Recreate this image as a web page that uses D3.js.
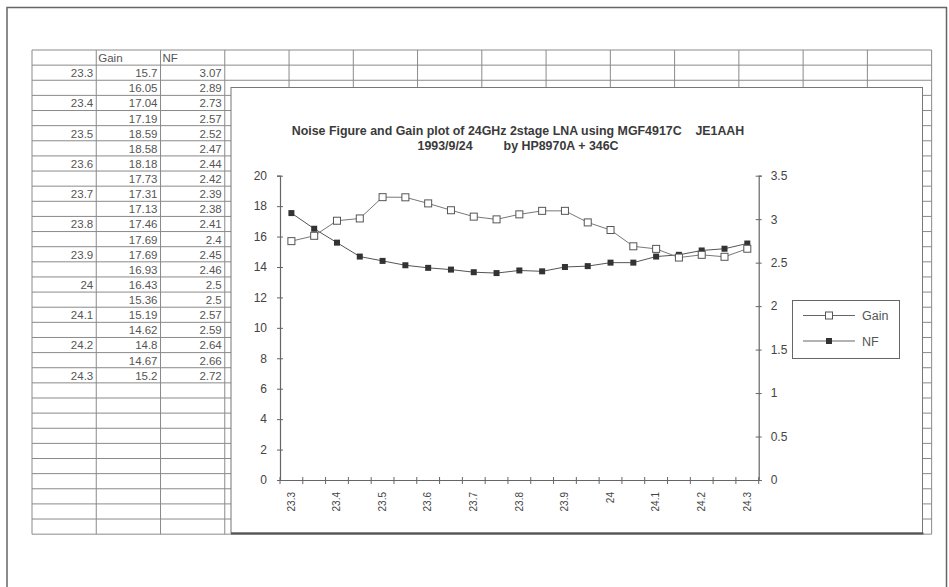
<!DOCTYPE html>
<html>
<head>
<meta charset="utf-8">
<script src="https://cdn.jsdelivr.net/npm/d3@7/dist/d3.min.js"></script>
<style>
  html, body { margin: 0; padding: 0; background: #fff; }
  svg { display: block; }
  text { font-family: "Liberation Sans", Arial, sans-serif; }
</style>
</head>
<body>
<svg id="chart" width="949" height="587"></svg>
<script>
// Frequency points (GHz), measured gain (dB) and noise figure (dB)
const freqs = ["23.3","23.35","23.4","23.45","23.5","23.55","23.6","23.65","23.7","23.75",
               "23.8","23.85","23.9","23.95","24","24.05","24.1","24.15","24.2","24.25","24.3"];
const freqLabels = ["23.3","","23.4","","23.5","","23.6","","23.7","","23.8","","23.9","",
                    "24","","24.1","","24.2","","24.3"];
const gain = [15.7,16.05,17.04,17.19,18.59,18.58,18.18,17.73,17.31,17.13,17.46,17.69,17.69,
              16.93,16.43,15.36,15.19,14.62,14.8,14.67,15.2];
const nf = [3.07,2.89,2.73,2.57,2.52,2.47,2.44,2.42,2.39,2.38,2.41,2.4,2.45,2.46,2.5,2.5,
            2.57,2.59,2.64,2.66,2.72];
const gainTicks = [0,2,4,6,8,10,12,14,16,18,20];
const nfTicks = [0,0.5,1,1.5,2,2.5,3,3.5];
const headers = ["", "Gain", "NF"];
const titleLines = ["Noise Figure and Gain plot of 24GHz 2stage LNA using MGF4917C \u00a0\u00a0\u00a0JE1AAH",
                    "1993/9/24 \u00a0\u00a0\u00a0\u00a0\u00a0\u00a0\u00a0\u00a0by HP8970A + 346C"];
const seriesNames = ["Gain", "NF"];

const svg = d3.select("#chart");
const gridInk = "#8a8a8a";

// ---- page frame ----
svg.append("path")
  .attr("d", "M7,587 V7.5 H946.5 V587")
  .attr("fill", "none").attr("stroke", "#666").attr("stroke-width", 1.5);

// ---- spreadsheet grid ----
const colX = d3.range(15).map(i => 32 + i * 64.26);
const rowY = d3.range(33).map(i => 50 + i * 15.13);
const sheet = svg.append("g");
sheet.selectAll("line.v").data(colX).join("line")
  .attr("x1", d => d).attr("x2", d => d)
  .attr("y1", rowY[0]).attr("y2", rowY[rowY.length - 1])
  .attr("stroke", gridInk).attr("stroke-width", 1);
sheet.selectAll("line.h").data(rowY).join("line")
  .attr("x1", colX[0]).attr("x2", colX[colX.length - 1])
  .attr("y1", d => d).attr("y2", d => d)
  .attr("stroke", gridInk).attr("stroke-width", 1);

// header row
sheet.selectAll("text.hdr").data(headers).join("text")
  .attr("x", (d, i) => colX[i] + 2).attr("y", rowY[0] + 12)
  .attr("font-size", 11.5).attr("fill", "#555").text(d => d);

// data rows
const rows = freqs.map((f, i) => [freqLabels[i], gain[i], nf[i]]);
rows.forEach((r, i) => {
  r.forEach((v, j) => {
    if (v === "") return;
    sheet.append("text")
      .attr("x", colX[j + 1] - 3).attr("y", rowY[i + 1] + 12)
      .attr("text-anchor", "end").attr("font-size", 11.5).attr("fill", "#555")
      .text(v);
  });
});

// ---- chart box ----
const box = {x: 231, y: 87.5, w: 691.5, h: 445.5};
svg.append("rect")
  .attr("x", box.x).attr("y", box.y).attr("width", box.w).attr("height", box.h)
  .attr("fill", "#fff").attr("stroke", "#777").attr("stroke-width", 1);
svg.append("line")
  .attr("x1", box.x).attr("x2", box.x + box.w + 1)
  .attr("y1", box.y + box.h + 0.5).attr("y2", box.y + box.h + 0.5)
  .attr("stroke", "#555").attr("stroke-width", 2);

// title
svg.selectAll("text.title").data(titleLines).join("text")
  .attr("x", 518).attr("y", (d, i) => 135 + i * 14.5)
  .attr("text-anchor", "middle").attr("font-size", 12.4).attr("font-weight", "bold")
  .attr("fill", "#3a3a3a").text(d => d);

// ---- scales ----
const plot = {left: 280, right: 758.7, top: 175.7, bottom: 480};
const x = d3.scaleBand().domain(freqs).range([plot.left, plot.right]).padding(0);
const yG = d3.scaleLinear().domain([0, 20]).range([plot.bottom, plot.top]);
const yN = d3.scaleLinear().domain([0, 3.5]).range([plot.bottom, plot.top]);
const cx = d => x(d) + x.bandwidth() / 2;

function styleAxis(g) {
  g.select(".domain").attr("stroke", "#666").attr("stroke-width", 1.2);
  g.selectAll(".tick line").attr("stroke", "#666");
  g.selectAll(".tick text").attr("fill", "#444").attr("font-family", "Liberation Sans, Arial, sans-serif");
}

// left axis (gain)
const gL = svg.append("g").attr("transform", `translate(${plot.left},0)`)
  .call(d3.axisLeft(yG).tickValues(gainTicks).tickFormat(d => String(d))
    .tickSizeOuter(0).tickSize(3).tickPadding(10));
gL.selectAll(".tick line").attr("x1", -3).attr("x2", 3);
styleAxis(gL);
gL.selectAll(".tick text").attr("font-size", 12);

// right axis (NF)
const gR = svg.append("g").attr("transform", `translate(${plot.right},0)`)
  .call(d3.axisRight(yN).tickValues(nfTicks).tickFormat(d => String(d))
    .tickSizeOuter(0).tickSize(3).tickPadding(9));
gR.selectAll(".tick line").attr("x1", -3).attr("x2", 3);
styleAxis(gR);
gR.selectAll(".tick text").attr("font-size", 12);

// bottom category axis: labels on every other category
const gB = svg.append("g").attr("transform", `translate(0,${plot.bottom})`)
  .call(d3.axisBottom(x).tickValues(freqs.filter((d, i) => freqLabels[i] !== ""))
    .tickFormat(d => freqLabels[freqs.indexOf(d)]).tickSize(0).tickSizeOuter(0));
styleAxis(gB);
gB.selectAll(".tick text")
  .attr("transform", "rotate(-90)").attr("text-anchor", "end")
  .attr("x", -12).attr("y", 0).attr("dy", "0.33em").attr("dx", 0)
  .attr("font-size", 10).attr("font-family", "Liberation Sans Narrow, Liberation Sans, sans-serif");
// tick marks between categories
gB.selectAll("line.cat").data(d3.range(freqs.length + 1)).join("line")
  .attr("x1", i => plot.left + i * x.step()).attr("x2", i => plot.left + i * x.step())
  .attr("y1", -3).attr("y2", 4).attr("stroke", "#666");

// ---- series ----
const line = ys => d3.line().x((d, i) => cx(freqs[i])).y(d => ys(d));
svg.append("path").datum(nf)
  .attr("d", line(yN)).attr("fill", "none").attr("stroke", "#555").attr("stroke-width", 1);
svg.append("path").datum(gain)
  .attr("d", line(yG)).attr("fill", "none").attr("stroke", "#777").attr("stroke-width", 1);

svg.selectAll("rect.nf").data(nf).join("rect")
  .attr("x", (d, i) => cx(freqs[i]) - 3).attr("y", d => yN(d) - 3)
  .attr("width", 6).attr("height", 6).attr("fill", "#333");
svg.selectAll("rect.gain").data(gain).join("rect")
  .attr("x", (d, i) => cx(freqs[i]) - 3.5).attr("y", d => yG(d) - 3.5)
  .attr("width", 7).attr("height", 7).attr("fill", "#fff").attr("stroke", "#555").attr("stroke-width", 1);

// ---- legend ----
const lg = svg.append("g");
lg.append("rect").attr("x", 792.5).attr("y", 300.5).attr("width", 107).attr("height", 58)
  .attr("fill", "#fff").attr("stroke", "#666");
seriesNames.forEach((name, i) => {
  const yy = 315.5 + i * 25.5;
  lg.append("line").attr("x1", 803).attr("x2", 855).attr("y1", yy).attr("y2", yy)
    .attr("stroke", "#666");
  if (i === 0) {
    lg.append("rect").attr("x", 825.5).attr("y", yy - 3.5).attr("width", 7).attr("height", 7)
      .attr("fill", "#fff").attr("stroke", "#555");
  } else {
    lg.append("rect").attr("x", 826).attr("y", yy - 3).attr("width", 6).attr("height", 6)
      .attr("fill", "#333");
  }
  lg.append("text").attr("x", 862).attr("y", yy + 4.5).attr("font-size", 12.5)
    .attr("fill", "#555").text(name);
});
</script>
</body>
</html>
